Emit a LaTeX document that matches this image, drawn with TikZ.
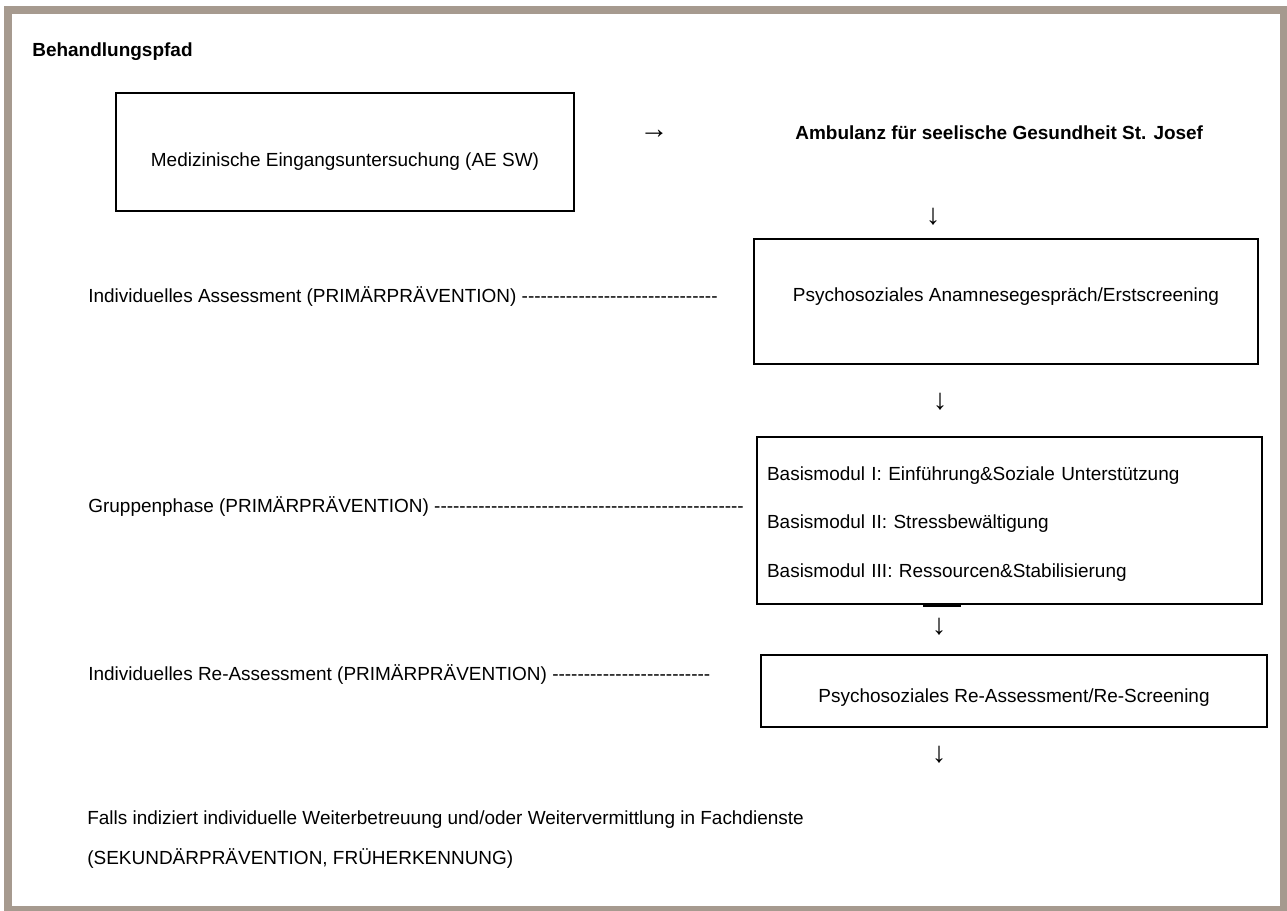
\documentclass[tikz,border=0pt]{standalone}
\usepackage{fontspec}
\setmainfont{Liberation Sans}
\definecolor{framegray}{RGB}{166,154,143}
\newcommand\basefont{\fontsize{10.8}{13}\selectfont}
\newcommand\dashrow[1]{\foreach \k in {1,...,#1}{-\kern0pt}}

\begin{document}
\begin{tikzpicture}[
  x=0.02cm, y=-0.02cm,
  font=\basefont,
  box/.style={draw,line width=0.03cm,inner sep=0pt,align=center},
  lowtext/.style={text height=#1,text depth=0pt},
  side/.style={anchor=base west,inner sep=0pt},
  glyph/.style={inner sep=0pt,font=\fontsize{16.5}{17}\selectfont},
  frame/.style={draw=framegray,line width=0.15cm}
]
\useasboundingbox (0,0) rectangle (1287,911);
\draw[frame] (8,10) rectangle (1284,910);

\node[side,font=\basefont\bfseries] (title) at (32,57) {Behandlungspfad};

\node[box,minimum width=9.16cm,minimum height=2.36cm,lowtext=0.6cm] (exam) at (345,152)
  {Medizinische Eingangsuntersuchung (AE SW)};
\node[glyph] (toamb) at (654,134) {→};
\node[side,font=\basefont\bfseries] (ambu) at (795,140)
  {Ambulanz für seelische Gesundheit St. Josef};
\node[glyph] (down1) at (933,217) {↓};

\node[box,minimum width=10.08cm,minimum height=2.5cm,lowtext=0pt] (anam) at (1006,301.5)
  {Psychosoziales Anamnesegespräch/Erstscreening};
\node[side] (assess) at (88,303)
  {Individuelles Assessment (PRIMÄRPRÄVENTION) \dashrow{31}};
\node[glyph] (down2) at (940,402) {↓};

\node[box,align=left,text width=9.7cm,inner xsep=0.2cm,minimum height=3.34cm,
  text height=0.28cm,text depth=1.9cm,font=\fontsize{10.8}{27.8}\selectfont]
  (modules) at (1009.5,520.5)
  {Basismodul I: Einführung\&Soziale Unterstützung\\
   Basismodul II: Stressbewältigung\\
   Basismodul III: Ressourcen\&Stabilisierung};
\draw[line width=0.08cm] (923,605) -- (961,605);
\node[side] (group) at (88,513)
  {Gruppenphase (PRIMÄRPRÄVENTION) \dashrow{49}};
\node[glyph] (down3) at (939,627) {↓};

\node[box,minimum width=10.12cm,minimum height=1.44cm,lowtext=0.44cm] (rescreen) at (1014,691)
  {Psychosoziales Re-Assessment/Re-Screening};
\node[side] (reassess) at (88,680)
  {Individuelles Re-Assessment (PRIMÄRPRÄVENTION) \dashrow{25}};
\node[glyph] (down4) at (939,755) {↓};

\node[side] (follow) at (87,824)
  {Falls indiziert individuelle Weiterbetreuung und/oder Weitervermittlung in Fachdienste};
\node[side] (followb) at (87,864) {(SEKUNDÄRPRÄVENTION, FRÜHERKENNUNG)};
\end{tikzpicture}
\end{document}
